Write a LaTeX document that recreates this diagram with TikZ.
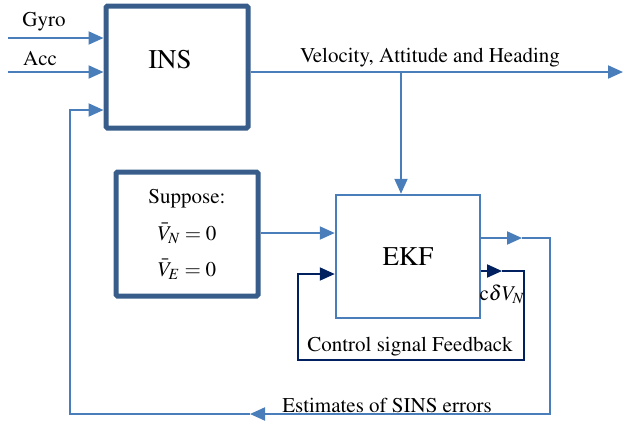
\documentclass[tikz,border=0pt]{standalone}
\usepackage[T1]{fontenc}
\usepackage{mathptmx}
\usetikzlibrary{arrows.meta}
\definecolor{lineblue}{HTML}{4A7EBB}
\definecolor{boxblue}{HTML}{385D8A}
\definecolor{navy}{HTML}{002060}

\begin{document}
\begin{tikzpicture}[x=1pt,y=-1pt,
	flow/.style={draw=lineblue,line width=2pt},
	ctrl/.style={draw=navy,line width=2pt},
	arrowed/.style={-{Triangle[length=15pt,width=13pt]}},
	bigbox/.style={draw=boxblue,line width=5pt,rounded corners=1.5pt,minimum width=142pt,inner sep=0pt},
	lbl/.style={font=\fontsize{21}{25}\selectfont,inner sep=0pt}]
	\useasboundingbox (0,0) rectangle (625,421);

	\node[bigbox,minimum height=122pt,
		label={[font=\fontsize{27}{32}\selectfont,xshift=-7pt,yshift=8pt]center:INS}] (ins) at (177,67) {};
	\node[bigbox,minimum height=124pt,align=center,font=\fontsize{21}{25}\selectfont] (suppose) at (187,234)
		{Suppose:\\[12pt] $\bar{V}_N=0$\\[11pt] $\bar{V}_E=0$};
	\node[draw=lineblue,line width=2.5pt,minimum width=144pt,minimum height=123pt,inner sep=0pt,
		font=\fontsize{27}{32}\selectfont] (ekf) at (408,256.5) {EKF};

	% inputs of the INS
	\coordinate (gyro) at (8,38);
	\coordinate (acc) at (8,72);
	\draw[flow,arrowed] (gyro) -- (gyro -| ins.west);
	\draw[flow,arrowed] (acc) -- (acc -| ins.west);
	\node[lbl] at (44,22) {Gyro};
	\node[lbl] at (40,58) {Acc};

	% navigation output and branch to the filter
	\coordinate (out) at (623,72);
	\coordinate (split) at (401,72);
	\draw[flow,arrowed] (out -| ins.east) -- (out);
	\draw[flow,arrowed] (split) -- (split |- ekf.north);
	\node[lbl] at (430,58) {Velocity, Attitude and Heading};

	\draw[flow,arrowed] (suppose.east |- 0,233) -- (ekf.west |- 0,233);

	% error estimates back to the INS
	\coordinate (e1) at (522,238);
	\coordinate (e2) at (550,238);
	\coordinate (e3) at (550,414);
	\coordinate (e4) at (250,414);
	\coordinate (e5) at (70,414);
	\coordinate (e6) at (70,110);
	\draw[flow,arrowed] (ekf.east |- e1) -- (e1);
	\draw[flow,arrowed] (e1) -- (e2) -- (e3) -- (e4);
	\draw[flow,arrowed] (e4) -- (e5) -- (e6) -- (e6 -| ins.west);
	\node[lbl] at (387,405) {Estimates of SINS errors};

	% control loop around the filter
	\coordinate (c1) at (502,271);
	\coordinate (c2) at (524,271);
	\coordinate (c3) at (524,360);
	\coordinate (c4) at (298,360);
	\coordinate (c5) at (298,274);
	\draw[ctrl,arrowed] (ekf.east |- c1) -- (c1);
	\draw[ctrl,arrowed] (c1) -- (c2) -- (c3) -- (c4) -- (c5) -- (c5 -| ekf.west);
	\node[lbl] at (502,294) {c$\delta V_N$};
	\node[lbl] at (410,347) {Control signal Feedback};
\end{tikzpicture}
\end{document}
